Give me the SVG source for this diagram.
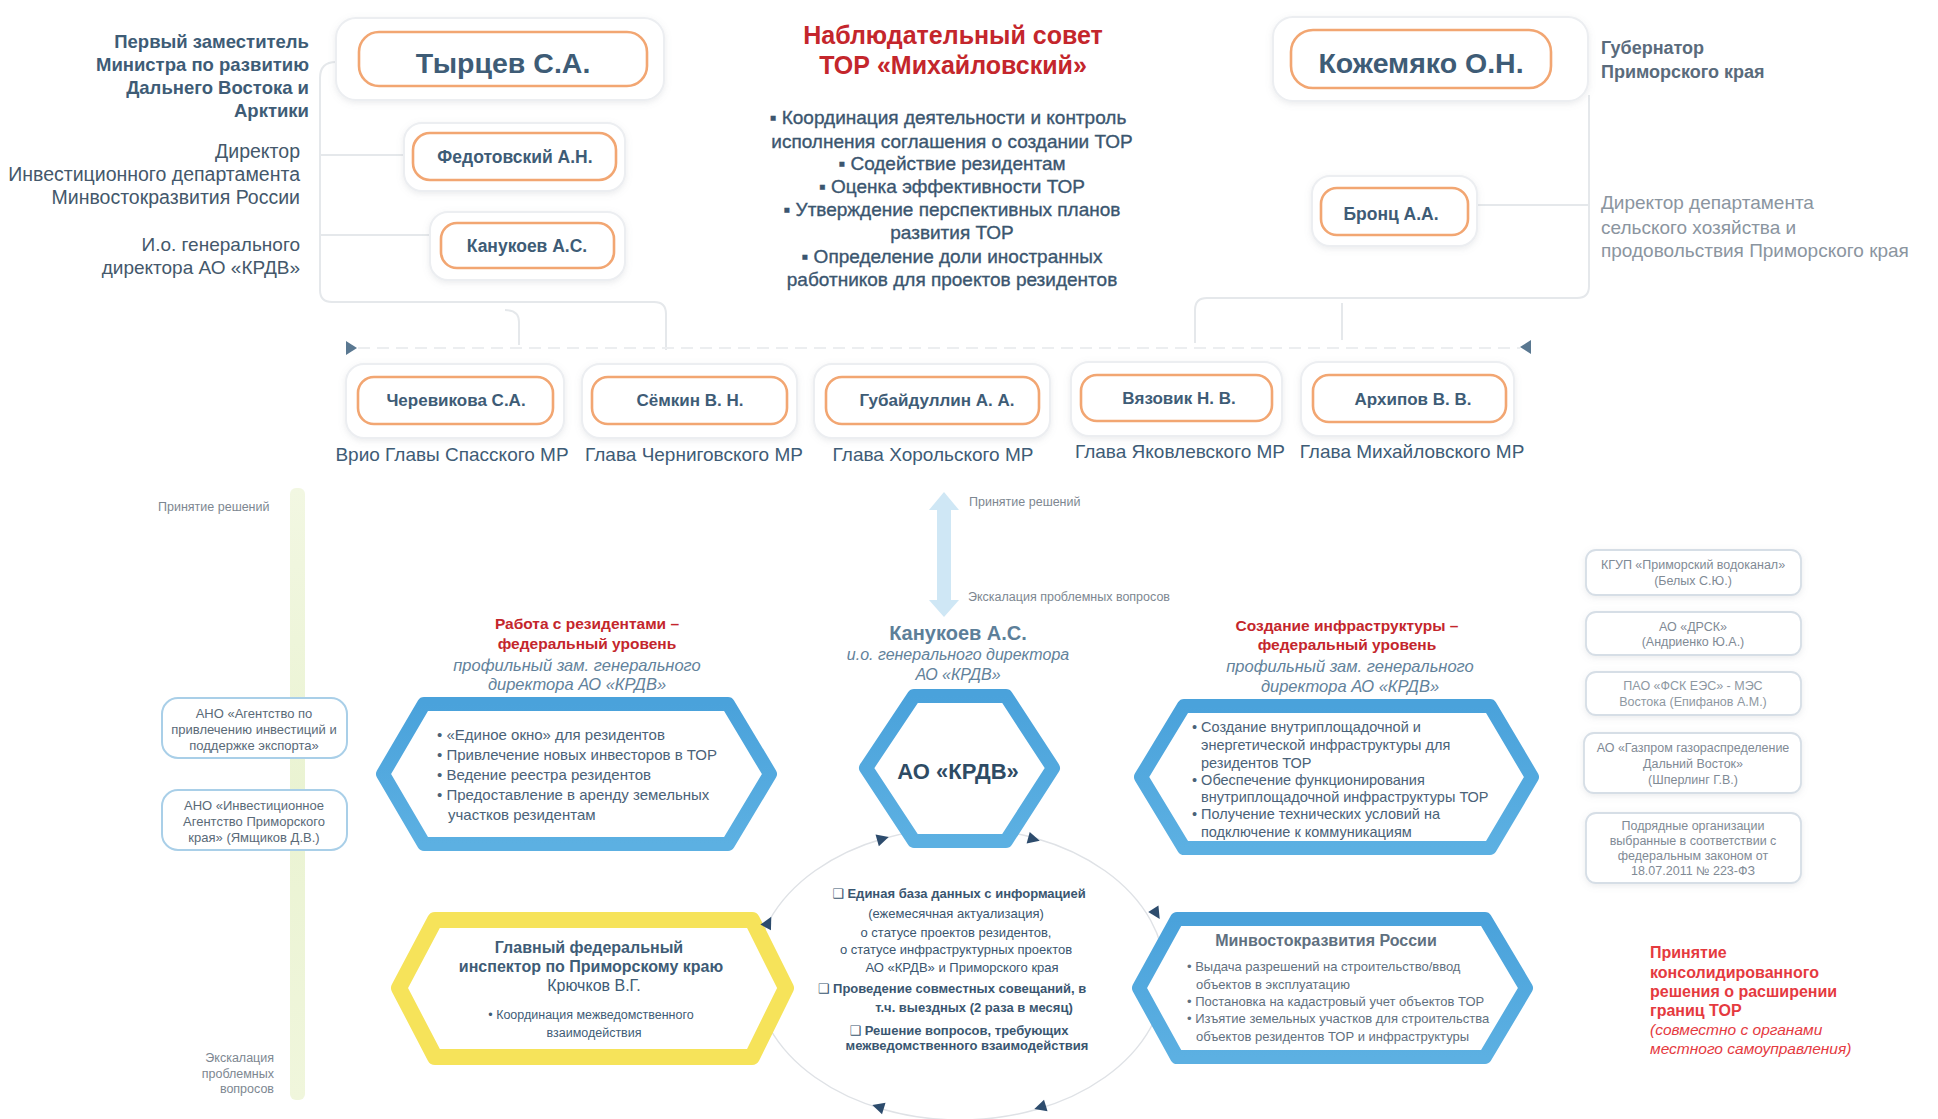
<svg xmlns="http://www.w3.org/2000/svg" width="1938" height="1119" viewBox="0 0 1938 1119">
<defs>
<style>
text{font-family:"Liberation Sans",Arial,"DejaVu Sans",sans-serif}
.c{text-anchor:middle}
.r{text-anchor:end}
.b{font-weight:bold}
.i{font-style:italic}
.nm{font-weight:bold;fill:#3e5c76;text-anchor:middle}
.dk{fill:#3e5c76}
.gr{fill:#8b959f}
.red{fill:#c4262c;font-weight:bold}
.red2{fill:#e53a3f}
.sub{fill:#62829b;font-style:italic;text-anchor:middle}
.hx{fill:#4a6278}
.sm{fill:#7d8791;font-size:12.5px}
.outer{fill:#fff;stroke:#eceef1;stroke-width:2}
.inner{fill:#fff;stroke:#f2a672;stroke-width:2.6}
.frame{fill:none;stroke:#e5e8eb;stroke-width:2}
.org{fill:#fff;stroke:#d6dee6;stroke-width:1.8}
.ano{fill:#fff;stroke:#a9cfe8;stroke-width:2}
.bhex{fill:#fff;stroke:url(#bg);stroke-width:14;stroke-linejoin:round}
.yhex{fill:#fff;stroke:#f6e35a;stroke-width:16;stroke-linejoin:round}
.lst{fill:#3b566f;stroke:#3b566f;stroke-width:0.35;font-size:19px;text-anchor:middle}
.cyc{fill:#3a5670;font-size:13px;text-anchor:middle}
.tri{fill:#2d4c6d}
</style>
<linearGradient id="bg" x1="0" y1="0" x2="0" y2="1">
<stop offset="0" stop-color="#4aa2db"/>
<stop offset="1" stop-color="#5cb0e2"/>
</linearGradient>
<linearGradient id="gband" x1="0" y1="0" x2="0" y2="1">
<stop offset="0" stop-color="#f2f7e2"/>
<stop offset="0.5" stop-color="#eaf3d2"/>
<stop offset="1" stop-color="#f0f6dc"/>
</linearGradient>
<filter id="sh" x="-10%" y="-20%" width="120%" height="150%">
<feDropShadow dx="0" dy="2" stdDeviation="3" flood-color="#8a9099" flood-opacity="0.18"/>
</filter>
<path id="arr" d="M7 0 L-5 -6 L-5 6 Z"/>
</defs>
<rect width="1938" height="1119" fill="#fff"/>

<!-- connectors -->
<g id="connectors">
<path class="frame" d="M336 62 Q320 62 320 78 V290 Q320 302 332 302 H654 Q666 302 666 314 V350"/>
<path class="frame" d="M505 310 Q519 310 519 322 V345"/>
<line class="frame" x1="320" y1="155" x2="404" y2="155"/>
<line class="frame" x1="320" y1="235" x2="430" y2="235"/>
<path class="frame" d="M1589 95 V286 Q1589 298 1577 298 H1207 Q1195 298 1195 310 V343"/>
<line class="frame" x1="1342" y1="303" x2="1342" y2="340"/>
<line class="frame" x1="1477" y1="205" x2="1589" y2="205"/>
<line x1="358" y1="348" x2="1520" y2="348" stroke="#eceef0" stroke-width="2" stroke-dasharray="12 7"/>
<polygon points="346,341 357,348 346,355" style="fill:#5a7891"/>
<polygon points="1531,340 1520,347 1531,354" style="fill:#5a7891"/>
<!-- left green band -->
<rect x="290" y="488" width="15" height="612" rx="6" fill="url(#gband)"/>
<!-- central double arrow -->
<polygon points="944,492 959,510 951,510 951,600 959,600 944,617 929,600 937,600 937,510 929,510" fill="#cfe7f5"/>
<!-- cycle ellipse -->
<ellipse cx="960" cy="974" rx="205" ry="146" fill="none" stroke="#dfe2e6" stroke-width="1.5"/>
</g>

<!-- top-left labels -->
<g id="lbl-tyrcev">
<text class="r b dk" font-size="18.5" x="309" y="48">Первый заместитель</text>
<text class="r b dk" font-size="18.5" x="309" y="71">Министра по развитию</text>
<text class="r b dk" font-size="18.5" x="309" y="94">Дальнего Востока и</text>
<text class="r b dk" font-size="18.5" x="309" y="117">Арктики</text>
</g>
<g id="lbl-fedotovsky">
<text class="r" fill="#44586b" font-size="19.5" x="300" y="158">Директор</text>
<text class="r" fill="#44586b" font-size="19.5" x="300" y="181">Инвестиционного департамента</text>
<text class="r" fill="#44586b" font-size="19.5" x="300" y="204">Минвостокразвития России</text>
</g>
<g id="lbl-kanukoev">
<text class="r" fill="#44586b" font-size="19" x="300" y="251">И.о. генерального</text>
<text class="r" fill="#44586b" font-size="19" x="300" y="274">директора АО «КРДВ»</text>
</g>

<g id="node-tyrcev">
<rect class="outer" filter="url(#sh)" x="336" y="18" width="328" height="82" rx="20"/>
<rect class="inner" x="359" y="32" width="288" height="54" rx="20"/>
<text class="nm" font-size="28.5" x="503" y="73">Тырцев С.А.</text>
</g>
<g id="node-fedotovsky">
<rect class="outer" filter="url(#sh)" x="404" y="123" width="221" height="68" rx="18"/>
<rect class="inner" x="413" y="133" width="203" height="47" rx="17"/>
<text class="nm" font-size="17.5" x="515" y="163">Федотовский А.Н.</text>
</g>
<g id="node-kanukoev-top">
<rect class="outer" filter="url(#sh)" x="430" y="212" width="195" height="68" rx="18"/>
<rect class="inner" x="441" y="223" width="173" height="45" rx="16"/>
<text class="nm" font-size="17.5" x="527" y="252">Канукоев А.С.</text>
</g>

<g id="node-council">
<text class="red c" font-size="25" x="953" y="44">Наблюдательный совет</text>
<text class="red c" font-size="25" x="953" y="74">ТОР «Михайловский»</text>
<text class="lst" x="948" y="124">▪  Координация деятельности и контроль</text>
<text class="lst" x="952" y="148">исполнения соглашения о создании ТОР</text>
<text class="lst" x="952" y="170">▪  Содействие резидентам</text>
<text class="lst" x="952" y="193">▪  Оценка эффективности ТОР</text>
<text class="lst" x="952" y="216">▪  Утверждение перспективных планов</text>
<text class="lst" x="952" y="239">развития ТОР</text>
<text class="lst" x="952" y="263">▪  Определение доли иностранных</text>
<text class="lst" x="952" y="286">работников для проектов резидентов</text>
</g>

<g id="node-kozhemyako">
<rect class="outer" filter="url(#sh)" x="1273" y="17" width="315" height="84" rx="20"/>
<rect class="inner" x="1291" y="30" width="260" height="58" rx="22"/>
<text class="nm" font-size="28.5" x="1421" y="73">Кожемяко О.Н.</text>
</g>
<g id="lbl-kozhemyako">
<text class="b" fill="#5a6b7c" font-size="18" x="1601" y="54">Губернатор</text>
<text class="b" fill="#5a6b7c" font-size="18" x="1601" y="78">Приморского края</text>
</g>
<g id="node-bronc">
<rect class="outer" filter="url(#sh)" x="1312" y="176" width="165" height="70" rx="18"/>
<rect class="inner" x="1321" y="188" width="147" height="47" rx="16"/>
<text class="nm" font-size="17.5" x="1391" y="220">Бронц А.А.</text>
</g>
<g id="lbl-bronc">
<text class="gr" font-size="19" x="1601" y="209">Директор департамента</text>
<text class="gr" font-size="19" x="1601" y="234">сельского хозяйства и</text>
<text class="gr" font-size="19" x="1601" y="257">продовольствия Приморского края</text>
</g>

<!-- municipal heads -->
<g id="node-cherevikova">
<rect class="outer" filter="url(#sh)" x="346" y="364" width="218" height="74" rx="18"/>
<rect class="inner" x="358" y="377" width="195" height="47" rx="16"/>
<text class="nm" font-size="17" x="456" y="406">Черевикова С.А.</text>
<text class="c dk" font-size="19" x="452" y="461">Врио Главы Спасского МР</text>
</g>
<g id="node-semkin">
<rect class="outer" filter="url(#sh)" x="582" y="364" width="215" height="74" rx="18"/>
<rect class="inner" x="592" y="377" width="195" height="47" rx="16"/>
<text class="nm" font-size="17" x="690" y="406">Сёмкин В. Н.</text>
<text class="c dk" font-size="19" x="694" y="461">Глава Черниговского МР</text>
</g>
<g id="node-gubaydullin">
<rect class="outer" filter="url(#sh)" x="814" y="364" width="236" height="74" rx="18"/>
<rect class="inner" x="826" y="377" width="213" height="47" rx="16"/>
<text class="nm" font-size="17" x="937" y="406">Губайдуллин А. А.</text>
<text class="c dk" font-size="19" x="933" y="461">Глава Хорольского МР</text>
</g>
<g id="node-vyazovik">
<rect class="outer" filter="url(#sh)" x="1071" y="362" width="211" height="74" rx="18"/>
<rect class="inner" x="1081" y="375" width="191" height="46" rx="16"/>
<text class="nm" font-size="17" x="1179" y="404">Вязовик Н. В.</text>
<text class="c dk" font-size="19" x="1180" y="458">Глава Яковлевского МР</text>
</g>
<g id="node-arkhipov">
<rect class="outer" filter="url(#sh)" x="1301" y="362" width="213" height="74" rx="18"/>
<rect class="inner" x="1313" y="375" width="193" height="47" rx="16"/>
<text class="nm" font-size="17" x="1413" y="405">Архипов В. В.</text>
<text class="c dk" font-size="19" x="1412" y="458">Глава Михайловского МР</text>
</g>

<!-- side labels -->
<g id="lbl-left-band">
<text class="sm" x="158" y="511">Принятие решений</text>
<text class="sm r" x="274" y="1062">Экскалация</text>
<text class="sm r" x="274" y="1078">проблемных</text>
<text class="sm r" x="274" y="1093">вопросов</text>
</g>
<g id="lbl-center-arrow">
<text class="sm" x="969" y="506">Принятие решений</text>
<text class="sm" x="968" y="601">Экскалация проблемных вопросов</text>
</g>

<!-- left hexagon -->
<g id="node-residents">
<text class="red c" font-size="15.5" x="587" y="629">Работа с резидентами –</text>
<text class="red c" font-size="15.5" x="587" y="649">федеральный уровень</text>
<text class="sub" font-size="16.5" x="577" y="671">профильный зам. генерального</text>
<text class="sub" font-size="16.5" x="577" y="690">директора АО «КРДВ»</text>
<polygon class="bhex" points="383,774 424,704 728,704 770,774 728,844 424,844"/>
<text class="hx" font-size="15" x="437" y="740">• «Единое окно» для резидентов</text>
<text class="hx" font-size="15" x="437" y="760">• Привлечение новых инвесторов в ТОР</text>
<text class="hx" font-size="15" x="437" y="780">• Ведение реестра резидентов</text>
<text class="hx" font-size="15" x="437" y="800">• Предоставление в аренду земельных</text>
<text class="hx" font-size="15" x="448" y="820">участков резидентам</text>
</g>

<g id="node-ano-export">
<rect class="ano" x="162" y="698" width="185" height="60" rx="16"/>
<text class="c" fill="#5a6a78" font-size="13" x="254" y="718">АНО «Агентство по</text>
<text class="c" fill="#5a6a78" font-size="13" x="254" y="734">привлечению инвестиций и</text>
<text class="c" fill="#5a6a78" font-size="13" x="254" y="750">поддержке экспорта»</text>
</g>
<g id="node-ano-invest">
<rect class="ano" x="162" y="790" width="185" height="60" rx="16"/>
<text class="c" fill="#5a6a78" font-size="13" x="254" y="810">АНО «Инвестиционное</text>
<text class="c" fill="#5a6a78" font-size="13" x="254" y="826">Агентство Приморского</text>
<text class="c" fill="#5a6a78" font-size="13" x="254" y="842">края» (Ямщиков Д.В.)</text>
</g>

<!-- center -->
<g id="node-krdv">
<text class="c b" fill="#5d7f99" font-size="20" x="958" y="640">Канукоев А.С.</text>
<text class="sub" font-size="16" x="958" y="660">и.о. генерального директора</text>
<text class="sub" font-size="16" x="958" y="680">АО «КРДВ»</text>
<polygon class="bhex" points="866,768 914,696 1006,696 1053,768 1006,841 914,841"/>
<text class="c b" fill="#2e4b64" font-size="22" x="958" y="779">АО «КРДВ»</text>
</g>

<!-- right hexagon -->
<g id="node-infra">
<text class="red c" font-size="15.5" x="1347" y="631">Создание инфраструктуры –</text>
<text class="red c" font-size="15.5" x="1347" y="650">федеральный уровень</text>
<text class="sub" font-size="16.5" x="1350" y="672">профильный зам. генерального</text>
<text class="sub" font-size="16.5" x="1350" y="692">директора АО «КРДВ»</text>
<polygon class="bhex" points="1141,777 1184,706 1490,706 1532,777 1490,848 1184,848"/>
<text class="hx" font-size="14.5" x="1192" y="732">• Создание внутриплощадочной и</text>
<text class="hx" font-size="14.5" x="1201" y="750">энергетической инфраструктуры для</text>
<text class="hx" font-size="14.5" x="1201" y="768">резидентов ТОР</text>
<text class="hx" font-size="14.5" x="1192" y="785">• Обеспечение функционирования</text>
<text class="hx" font-size="14.5" x="1201" y="802">внутриплощадочной инфраструктуры ТОР</text>
<text class="hx" font-size="14.5" x="1192" y="819">• Получение технических условий на</text>
<text class="hx" font-size="14.5" x="1201" y="837">подключение к коммуникациям</text>
</g>

<!-- right organisations -->
<g id="node-vodokanal">
<rect class="org" filter="url(#sh)" x="1586" y="550" width="215" height="45" rx="10"/>
<text class="c" fill="#7f8a95" font-size="12.5" x="1693" y="569">КГУП «Приморский водоканал»</text>
<text class="c" fill="#7f8a95" font-size="12.5" x="1693" y="585">(Белых С.Ю.)</text>
</g>
<g id="node-drsk">
<rect class="org" filter="url(#sh)" x="1586" y="612" width="215" height="43" rx="10"/>
<text class="c" fill="#7f8a95" font-size="12.5" x="1693" y="631">АО «ДРСК»</text>
<text class="c" fill="#7f8a95" font-size="12.5" x="1693" y="646">(Андриенко Ю.А.)</text>
</g>
<g id="node-fsk">
<rect class="org" filter="url(#sh)" x="1586" y="672" width="215" height="43" rx="10"/>
<text class="c" fill="#8e98a2" font-size="12.5" x="1693" y="690">ПАО «ФСК ЕЭС» - МЭС</text>
<text class="c" fill="#8e98a2" font-size="12.5" x="1693" y="706">Востока (Епифанов А.М.)</text>
</g>
<g id="node-gazprom">
<rect class="org" filter="url(#sh)" x="1584" y="733" width="217" height="60" rx="10"/>
<text class="c" fill="#7f8a95" font-size="12.5" x="1693" y="752">АО «Газпром газораспределение</text>
<text class="c" fill="#7f8a95" font-size="12.5" x="1693" y="768">Дальний Восток»</text>
<text class="c" fill="#7f8a95" font-size="12.5" x="1693" y="784">(Шперлинг Г.В.)</text>
</g>
<g id="node-contractors">
<rect class="org" filter="url(#sh)" x="1586" y="813" width="215" height="70" rx="10"/>
<text class="c" fill="#7f8a95" font-size="12.5" x="1693" y="830">Подрядные организации</text>
<text class="c" fill="#7f8a95" font-size="12.5" x="1693" y="845">выбранные в соответствии с</text>
<text class="c" fill="#7f8a95" font-size="12.5" x="1693" y="860">федеральным законом от</text>
<text class="c" fill="#7f8a95" font-size="12.5" x="1693" y="875">18.07.2011 № 223-ФЗ</text>
</g>

<!-- bottom yellow hexagon -->
<g id="node-inspector">
<polygon class="yhex" points="399,988 435,920 752,920 786,988 752,1057 435,1057"/>
<text class="c b dk" font-size="16" x="589" y="953">Главный федеральный</text>
<text class="c b dk" font-size="16" x="591" y="972">инспектор по Приморскому краю</text>
<text class="c dk" font-size="16" x="594" y="991">Крючков В.Г.</text>
<text class="c dk" font-size="12.5" x="591" y="1019">• Координация межведомственного</text>
<text class="c dk" font-size="12.5" x="594" y="1037">взаимодействия</text>
</g>

<!-- cycle content -->
<g id="node-cycle">
<text class="cyc b" x="959" y="898">❑ Единая база данных с информацией</text>
<text class="cyc" x="956" y="918">(ежемесячная актуализация)</text>
<text class="cyc" x="956" y="937">о статусе проектов резидентов,</text>
<text class="cyc" x="956" y="954">о статусе инфраструктурных проектов</text>
<text class="cyc" x="962" y="972">АО «КРДВ» и Приморского края</text>
<text class="cyc b" x="952" y="993">❑ Проведение совместных совещаний, в</text>
<text class="cyc b" x="974" y="1012">т.ч. выездных (2 раза в месяц)</text>
<text class="cyc b" x="959" y="1035">❑ Решение вопросов, требующих</text>
<text class="cyc b" x="967" y="1050">межведомственного взаимодействия</text>
<use href="#arr" class="tri" transform="translate(882 839) rotate(-16)"/>
<use href="#arr" class="tri" transform="translate(1033 839) rotate(15)"/>
<use href="#arr" class="tri" transform="translate(1156 913) rotate(58)"/>
<use href="#arr" class="tri" transform="translate(1041 1107) rotate(163)"/>
<use href="#arr" class="tri" transform="translate(879 1107) rotate(197)"/>
<use href="#arr" class="tri" transform="translate(768 923) rotate(-62)"/>
</g>

<!-- Minvostok hexagon -->
<g id="node-minvostok">
<polygon class="bhex" points="1139,988 1177,919 1485,919 1526,988 1485,1057 1177,1057"/>
<text class="c b" fill="#5f7080" font-size="16" x="1326" y="946">Минвостокразвития России</text>
<text fill="#5f7080" font-size="13" x="1187" y="971">• Выдача разрешений на строительство/ввод</text>
<text fill="#5f7080" font-size="13" x="1196" y="989">объектов в эксплуатацию</text>
<text fill="#5f7080" font-size="13" x="1187" y="1006">• Постановка на кадастровый учет объектов ТОР</text>
<text fill="#5f7080" font-size="13" x="1187" y="1023">• Изъятие земельных участков для строительства</text>
<text fill="#5f7080" font-size="13" x="1196" y="1041">объектов резидентов ТОР и инфраструктуры</text>
</g>

<g id="lbl-expansion">
<text class="red2 b" font-size="16" x="1650" y="958">Принятие</text>
<text class="red2 b" font-size="16" x="1650" y="978">консолидированного</text>
<text class="red2 b" font-size="16" x="1650" y="997">решения о расширении</text>
<text class="red2 b" font-size="16" x="1650" y="1016">границ ТОР</text>
<text class="red2 i" font-size="15.5" x="1650" y="1035">(совместно с органами</text>
<text class="red2 i" font-size="15.5" x="1650" y="1054">местного самоуправления)</text>
</g>
</svg>
